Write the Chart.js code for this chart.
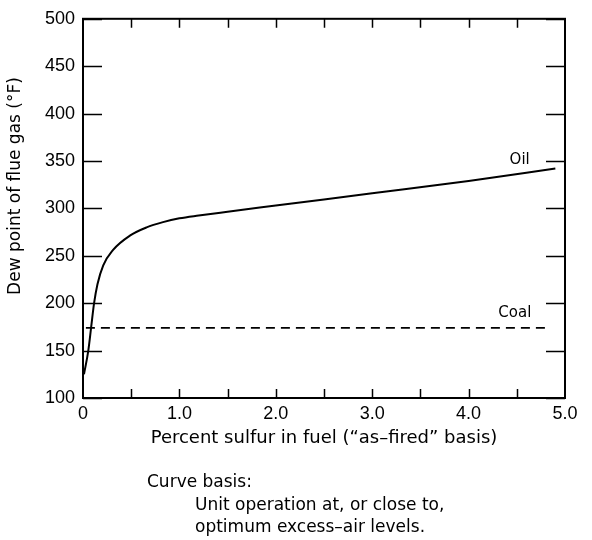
<!DOCTYPE html>
<html>
<head>
<meta charset="utf-8">
<script src="https://cdn.jsdelivr.net/npm/chart.js@4/dist/chart.umd.min.js"></script>
<style>
html,body{margin:0;padding:0;background:#fff;}
canvas{display:block;}
</style>
</head>
<body>
<canvas id="c" width="592" height="540"></canvas>
<script>
// ---- data ----
const oilX = [0.01, 0.055, 0.085, 0.115, 0.15, 0.21, 0.31, 0.49, 0.66, 0.83, 1.0, 1.2, 1.5, 2.0, 3.0, 4.0, 4.9];
const oilY = [125, 150, 175, 200, 220, 240, 256, 271.5, 280, 285.5, 289.5, 292.5, 296.5, 303, 316, 329, 342];
const coalX = [0.03, 4.85];
const coalY = [174, 174];
const xTickValues = [0, 1, 2, 3, 4, 5];
const xTickLabels = ['0', '1.0', '2.0', '3.0', '4.0', '5.0'];
const yTickValues = [100, 150, 200, 250, 300, 350, 400, 450, 500];
const xMinorTicks = [0.5, 1, 1.5, 2, 2.5, 3, 3.5, 4, 4.5];
const seriesLabels = ['Oil', 'Coal'];
const xTitle = 'Percent sulfur in fuel (“as–fired” basis)';
const yTitle = 'Dew point of flue gas (°F)';
const noteLines = ['Curve basis:', 'Unit operation at, or close to,', 'optimum excess–air levels.'];

const FONT = '"Liberation Sans", Arial, Helvetica, sans-serif';
const TFONT = '"DejaVu Sans", Verdana, sans-serif';

const framePlugin = {
  id: 'frame',
  afterDraw(chart) {
    const ctx = chart.ctx;
    const a = chart.chartArea;
    const xs = chart.scales.x, ys = chart.scales.y;
    ctx.save();
    ctx.strokeStyle = '#000';
    ctx.lineWidth = 2;
    ctx.strokeRect(a.left, a.top, a.right - a.left, a.bottom - a.top);
    ctx.lineWidth = 1.5;
    ctx.beginPath();
    yTickValues.forEach(v => {
      const p = Math.round(ys.getPixelForValue(v)) + 0.5;
      ctx.moveTo(a.left, p); ctx.lineTo(a.left + 19, p);
      ctx.moveTo(a.right, p); ctx.lineTo(a.right - 19, p);
    });
    xMinorTicks.forEach(v => {
      const p = Math.round(xs.getPixelForValue(v)) + 0.5;
      ctx.moveTo(p, a.bottom); ctx.lineTo(p, a.bottom - 9);
      ctx.moveTo(p, a.top); ctx.lineTo(p, a.top + 9);
    });
    ctx.stroke();

    ctx.fillStyle = '#000';
    // series labels
    ctx.font = '15px ' + TFONT;
    ctx.textAlign = 'center';
    ctx.textBaseline = 'middle';
    ctx.fillText(seriesLabels[0], xs.getPixelForValue(4.53), ys.getPixelForValue(351));
    ctx.fillText(seriesLabels[1], xs.getPixelForValue(4.48), ys.getPixelForValue(190));

    // y title
    ctx.save();
    ctx.translate(16, 186);
    ctx.rotate(-Math.PI / 2);
    ctx.font = '17px ' + TFONT;
    ctx.fillText(yTitle, 0, 0);
    ctx.restore();

    // notes
    ctx.textAlign = 'left';
    ctx.font = '17px ' + TFONT;
    ctx.fillText(noteLines[0], 147, 483);
    ctx.fillText(noteLines[1], 195, 506);
    ctx.fillText(noteLines[2], 195, 528);
    ctx.restore();
  }
};

new Chart(document.getElementById('c'), {
  type: 'line',
  data: {
    datasets: [
      {
        label: seriesLabels[0],
        data: oilX.map((x, i) => ({x: x, y: oilY[i]})),
        borderColor: '#000',
        borderWidth: 2,
        pointRadius: 0,
        cubicInterpolationMode: 'monotone',
        fill: false
      },
      {
        label: seriesLabels[1],
        data: coalX.map((x, i) => ({x: x, y: coalY[i]})),
        borderColor: '#000',
        borderWidth: 1.6,
        borderDash: [9, 6],
        pointRadius: 0,
        fill: false
      }
    ]
  },
  options: {
    responsive: false,
    animation: false,
    layout: {padding: {left: 0, top: 14, right: 27, bottom: 90}},
    plugins: {legend: {display: false}, tooltip: {enabled: false}},
    scales: {
      x: {
        type: 'linear',
        min: 0, max: 5,
        afterFit(s) { s.height = 52; },
        afterBuildTicks(s) { s.ticks = xTickValues.map(v => ({value: v})); },
        ticks: {
          callback: (v) => xTickLabels[xTickValues.indexOf(v)],
          font: {family: FONT, size: 18},
          color: '#000',
          padding: 5,
          maxRotation: 0,
          autoSkip: false
        },
        grid: {display: false, drawTicks: false},
        border: {display: false},
        title: {
          display: true,
          text: xTitle,
          font: {family: TFONT, size: 18},
          color: '#000',
          padding: {top: 0, bottom: 1}
        }
      },
      y: {
        type: 'linear',
        min: 100, max: 500,
        afterFit(s) { s.width = 83; },
        afterBuildTicks(s) { s.ticks = yTickValues.map(v => ({value: v})); },
        ticks: {
          font: {family: FONT, size: 18},
          color: '#000',
          padding: 8
        },
        grid: {display: false, drawTicks: false},
        border: {display: false}
      }
    }
  },
  plugins: [framePlugin]
});
</script>
</body>
</html>
